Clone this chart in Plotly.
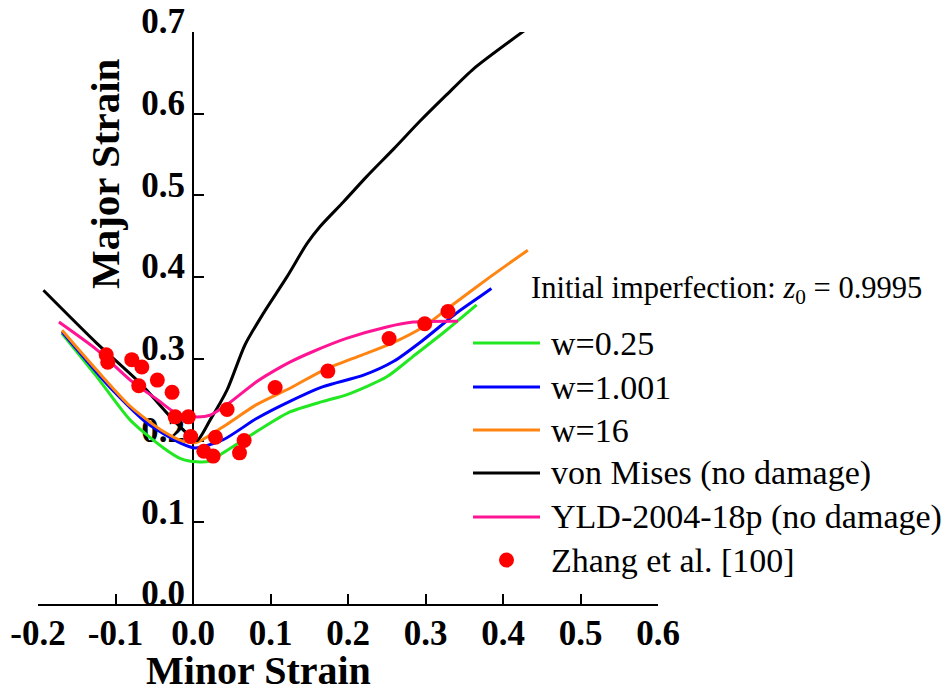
import plotly.graph_objects as go

# ---------------- data ----------------
vm_x = [-0.193, -0.124, -0.068, -0.029, -0.008, 0.005, 0.022, 0.044, 0.067, 0.091,
        0.121, 0.147, 0.164, 0.194, 0.224, 0.259, 0.293, 0.327, 0.362, 0.428]
vm_y = [0.384, 0.319, 0.270, 0.229, 0.209, 0.200, 0.225, 0.262, 0.317, 0.356,
        0.400, 0.441, 0.462, 0.492, 0.523, 0.557, 0.591, 0.623, 0.655, 0.702]

yld_x = [-0.173, -0.124, -0.081, -0.046, -0.021, 0.003, 0.022, 0.044, 0.082, 0.104,
         0.125, 0.155, 0.198, 0.250, 0.284, 0.342]
yld_y = [0.345, 0.311, 0.274, 0.250, 0.233, 0.229, 0.231, 0.244, 0.272, 0.285,
         0.296, 0.309, 0.325, 0.339, 0.345, 0.346]

w16_x = [-0.169, -0.124, -0.081, -0.038, -0.012, 0.005, 0.039, 0.082, 0.125, 0.168,
         0.216, 0.254, 0.297, 0.332, 0.383, 0.432]
w16_y = [0.335, 0.286, 0.242, 0.211, 0.199, 0.198, 0.217, 0.244, 0.264, 0.286,
         0.304, 0.318, 0.339, 0.364, 0.400, 0.433]

w1_x = [-0.169, -0.124, -0.102, -0.059, -0.016, 0.003, 0.039, 0.082, 0.125, 0.168,
        0.220, 0.259, 0.297, 0.340, 0.370, 0.385]
w1_y = [0.333, 0.283, 0.260, 0.221, 0.197, 0.191, 0.201, 0.227, 0.248, 0.266,
        0.280, 0.297, 0.323, 0.356, 0.376, 0.386]

w025_x = [-0.169, -0.124, -0.081, -0.038, -0.016, 0.005, 0.022, 0.039, 0.082, 0.125,
          0.168, 0.198, 0.250, 0.284, 0.327, 0.366]
w025_y = [0.331, 0.278, 0.225, 0.191, 0.178, 0.174, 0.175, 0.185, 0.211, 0.235,
          0.248, 0.256, 0.278, 0.303, 0.335, 0.366]

zhang_x = [-0.112, -0.110, -0.079, -0.066, -0.046, -0.070, -0.027, -0.023, -0.006, -0.003,
           0.014, 0.026, 0.029, 0.044, 0.060, 0.066, 0.106, 0.174, 0.253, 0.299, 0.329]
zhang_y = [0.305, 0.296, 0.299, 0.290, 0.274, 0.267, 0.259, 0.229, 0.229, 0.205,
           0.187, 0.181, 0.204, 0.238, 0.185, 0.200, 0.265, 0.285, 0.325, 0.343, 0.358]

x_ticks = [-0.2, -0.1, 0.0, 0.1, 0.2, 0.3, 0.4, 0.5, 0.6]
x_tick_text = ["-0.2", "-0.1", "0.0", "0.1", "0.2", "0.3", "0.4", "0.5", "0.6"]
y_ticks = [0.0, 0.1, 0.2, 0.3, 0.4, 0.5, 0.6, 0.7]
y_tick_text = ["0.0", "0.1", "0.2", "0.3", "0.4", "0.5", "0.6", "0.7"]

series_names = ["w=0.25", "w=1.001", "w=16", "von Mises (no damage)",
                "YLD-2004-18p (no damage)", "Zhang et al. [100]"]
legend_title = "Initial imperfection: <i>z</i><sub>0</sub> = 0.9995"

# ---------------- style ----------------
C_GREEN = "#22e822"
C_BLUE = "#0000ff"
C_ORANGE = "#ff8412"
C_BLACK = "#000000"
C_PINK = "#ff1493"
C_RED = "#ff0000"
FONT = "Times New Roman, Liberation Serif, Times, serif"

W, H = 949, 691
L, R, T, B = 38, 658, 32, 604


def px(xp):
    return (xp - L) / (R - L)


def py(yp):
    return (B - yp) / (B - T)


fig = go.Figure()
line_series = [
    (w025_x, w025_y, C_GREEN, series_names[0]),
    (w1_x, w1_y, C_BLUE, series_names[1]),
    (w16_x, w16_y, C_ORANGE, series_names[2]),
    (vm_x, vm_y, C_BLACK, series_names[3]),
    (yld_x, yld_y, C_PINK, series_names[4]),
]
for xs, ys, col, name in line_series:
    fig.add_trace(go.Scatter(x=xs, y=ys, mode="lines", name=name,
                             line=dict(color=col, width=3, shape="spline", smoothing=0.7),
                             showlegend=False))
fig.add_trace(go.Scatter(x=zhang_x, y=zhang_y, mode="markers", name=series_names[5],
                         marker=dict(color=C_RED, size=15, line=dict(width=0)),
                         showlegend=False, cliponaxis=False))

tickfont = dict(family=FONT, size=35, color="black", weight="bold")
fig.update_layout(
    width=W, height=H,
    margin=dict(l=L, r=W - R, t=T, b=H - B, pad=0, autoexpand=False),
    paper_bgcolor="white", plot_bgcolor="white",
    showlegend=False,
    xaxis=dict(range=[-0.2, 0.6], tickmode="array", tickvals=x_ticks, ticktext=x_tick_text,
               ticks="inside", ticklen=10, tickwidth=2, tickcolor="black",
               showline=True, linewidth=2, linecolor="black", automargin=False,
               showgrid=False, zeroline=False, tickfont=tickfont, layer="below traces",
               ticklabelstandoff=-3),
    yaxis=dict(range=[0, 0.7], tickmode="array", tickvals=y_ticks, ticktext=y_tick_text,
               anchor="free", position=0.25, automargin=False,
               ticks="inside", ticklen=10, tickwidth=2, tickcolor="black",
               showline=True, linewidth=2, linecolor="black",
               showgrid=False, zeroline=False, tickfont=tickfont, layer="below traces",
               ticklabelshift=-11),
)

ann = []
ann.append(dict(text="Minor Strain", x=px(258), y=py(670), xref="paper", yref="paper",
                showarrow=False, xanchor="center", yanchor="middle",
                font=dict(family=FONT, size=40, color="black", weight="bold")))
ann.append(dict(text="Major Strain", x=px(105), y=py(174), xref="paper", yref="paper",
                showarrow=False, xanchor="center", yanchor="middle", textangle=-90,
                font=dict(family=FONT, size=41, color="black", weight="bold")))
ann.append(dict(text=legend_title, x=px(529), y=py(290), xref="paper", yref="paper",
                showarrow=False, xanchor="left", yanchor="middle",
                font=dict(family=FONT, size=30.5, color="black")))

shapes = []
leg_y = [343, 387, 430, 473, 517, 560]
leg_cols = [C_GREEN, C_BLUE, C_ORANGE, C_BLACK, C_PINK]
for i, name in enumerate(series_names):
    yc = leg_y[i]
    if i < 5:
        shapes.append(dict(type="line", xref="paper", yref="paper",
                           x0=px(473), x1=px(540), y0=py(yc), y1=py(yc),
                           line=dict(color=leg_cols[i], width=3)))
    else:
        shapes.append(dict(type="circle", xref="paper", yref="paper",
                           x0=px(499), x1=px(514), y0=py(yc + 7.5), y1=py(yc - 7.5),
                           fillcolor=C_RED, line=dict(width=0)))
    ann.append(dict(text=name, x=px(549), y=py(yc), xref="paper", yref="paper",
                    showarrow=False, xanchor="left", yanchor="middle",
                    font=dict(family=FONT, size=34, color="black")))

fig.update_layout(annotations=ann, shapes=shapes)
fig.write_html("out.html")
